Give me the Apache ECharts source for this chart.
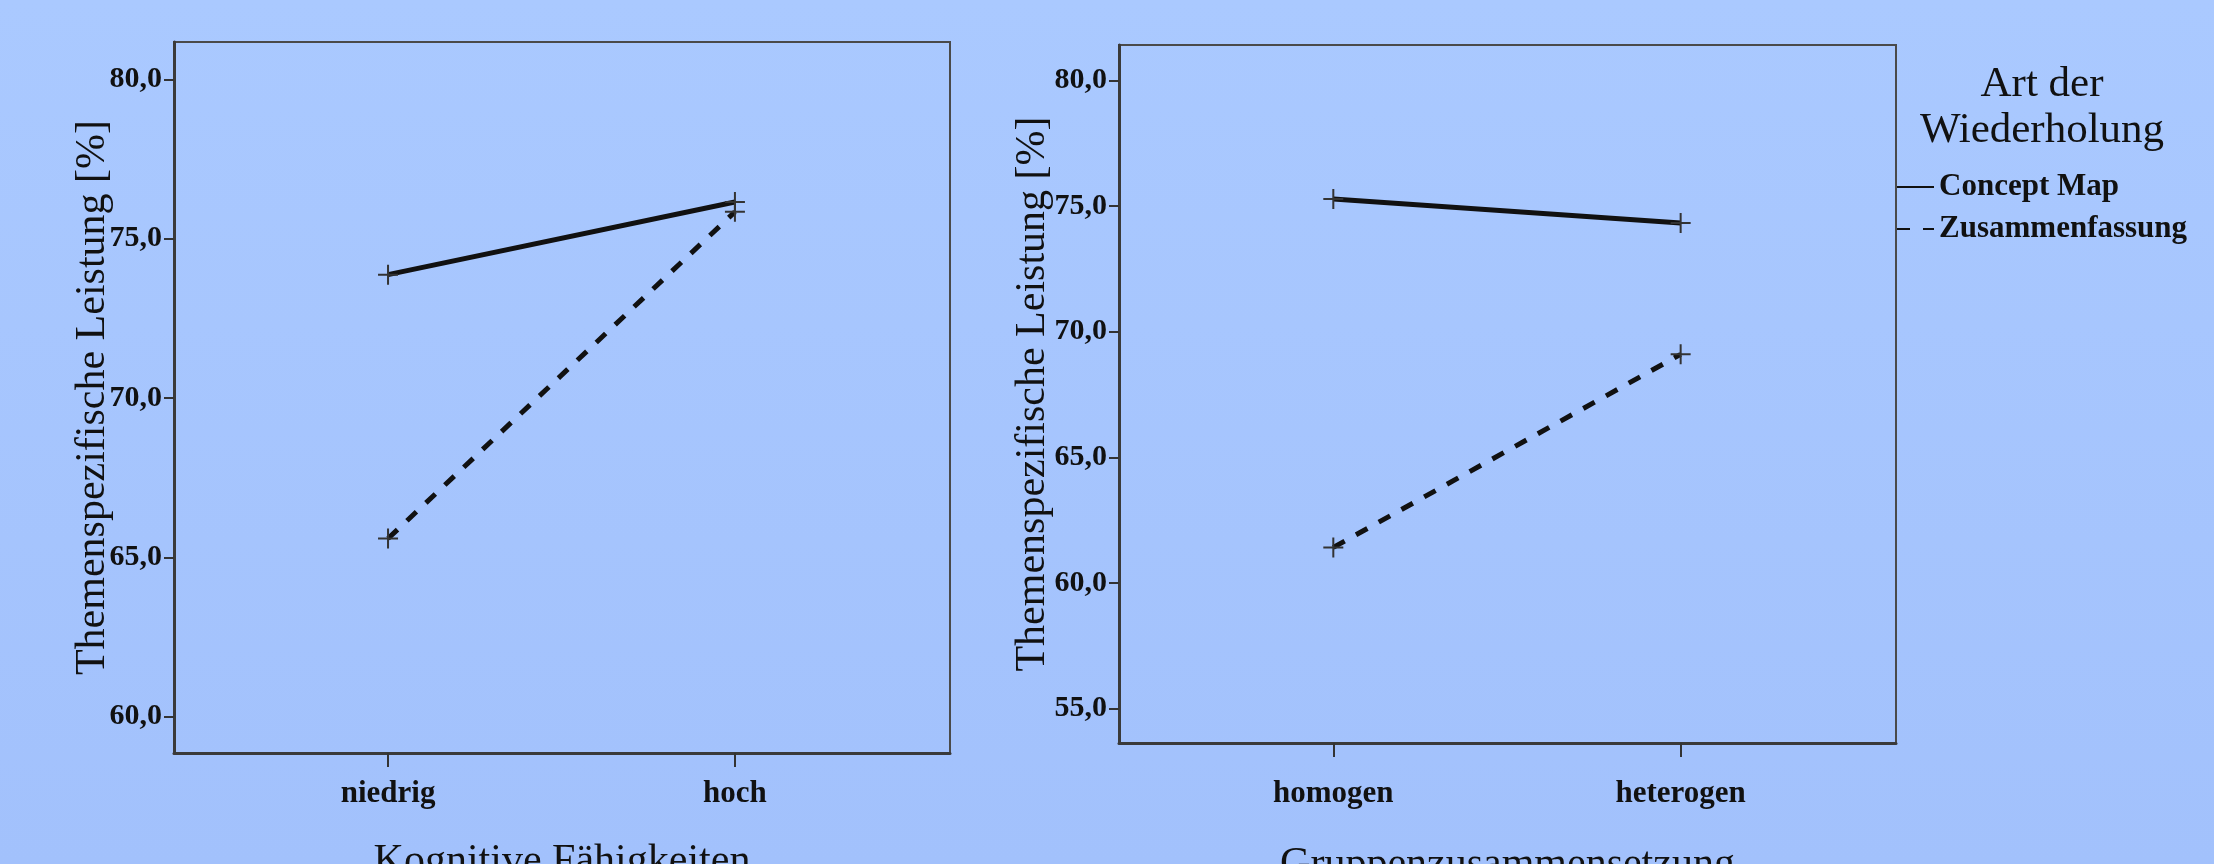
<!DOCTYPE html>
<html>
<head>
<meta charset="utf-8">
<script src="https://cdn.jsdelivr.net/npm/echarts@6/dist/echarts.min.js"></script>
<style>
html,body{margin:0;padding:0;width:2214px;height:864px;overflow:hidden;}
#chart{width:2214px;height:864px;}
</style>
</head>
<body>
<div id="chart"></div>
<script>
// ---- data ----
const categoriesLeft = ['niedrig', 'hoch'];
const categoriesRight = ['homogen', 'heterogen'];
const seriesNames = ['Concept Map', 'Zusammenfassung'];
const conceptMapLeft = [73.87, 76.15];
const zusammenfassungLeft = [65.59, 75.84];
const conceptMapRight = [75.29, 74.33];
const zusammenfassungRight = [61.41, 69.10];
const yTicksLeft = [60, 65, 70, 75, 80];
const yTicksRight = [55, 60, 65, 70, 75, 80];
const xTitleLeft = 'Kognitive Fähigkeiten';
const xTitleRight = 'Gruppenzusammensetzung';
const yTitle = 'Themenspezifische Leistung [%]';
const legendTitle = 'Art der\nWiederholung';

// ---- styles ----
const SERIF = '"Liberation Serif", "DejaVu Serif", serif';
const plusSymbol = 'path://M9,0h2v20h-2z M0,9h20v2h-20z';
const fmt = v => v.toFixed(1).replace('.', ',');

function pairs(vals) { return vals.map((v, i) => [i, v]); }

function xAxis(gridIndex, cats, name, nameGap, labelMargin) {
  return {
    type: 'value', gridIndex: gridIndex, min: -0.617, max: 1.62,
    name: name, nameLocation: 'middle', nameGap: nameGap, nameMoveOverlap: false,
    nameTextStyle: { fontFamily: SERIF, fontSize: 42, color: '#111' },
    axisLine: { show: true, onZero: false, lineStyle: { color: '#3a3a3a', width: 3 } },
    axisTick: { show: true, inside: false, length: 14, customValues: cats.map((c, i) => i), lineStyle: { color: '#333', width: 2 } },
    axisLabel: { customValues: cats.map((c, i) => i), formatter: v => cats[Math.round(v)] || '', margin: labelMargin,
      fontFamily: SERIF, fontWeight: 'bold', fontSize: 31, color: '#111' },
    splitLine: { show: false }
  };
}
function yAxis(gridIndex, min, max, ticks, nameGap) {
  return {
    type: 'value', gridIndex: gridIndex, min: min, max: max,
    name: yTitle, nameLocation: 'middle', nameRotate: 90, nameGap: nameGap, nameMoveOverlap: false,
    nameTextStyle: { fontFamily: SERIF, fontSize: 42, color: '#111' },
    axisLine: { show: true, onZero: false, lineStyle: { color: '#3a3a3a', width: 3 } },
    axisTick: { show: true, inside: false, length: 10, customValues: ticks, lineStyle: { color: '#333', width: 2 } },
    axisLabel: { customValues: ticks, formatter: fmt, margin: 12,
      fontFamily: SERIF, fontWeight: 'bold', fontSize: 30, color: '#111' },
    splitLine: { show: false }
  };
}
function series(name, idx, vals, dashed) {
  return {
    type: 'line', name: name, xAxisIndex: idx, yAxisIndex: idx,
    data: pairs(vals),
    symbol: plusSymbol, symbolSize: 20, showSymbol: true,
    itemStyle: { color: '#333' },
    lineStyle: { color: '#111', width: 5, type: dashed ? [13, 13] : 'solid' },
    emphasis: { disabled: true }, animation: false
  };
}

const chart = echarts.init(document.getElementById('chart'), null, { renderer: 'canvas' });
chart.setOption({
  animation: false,
  backgroundColor: {
    type: 'linear', x: 0, y: 0, x2: 0, y2: 1,
    colorStops: [{ offset: 0, color: '#aac9ff' }, { offset: 1, color: '#a2c1fc' }]
  },
  grid: [
    { left: 174, top: 42, width: 776, height: 711, containLabel: false, outerBoundsMode: 'none',
      show: true, borderColor: '#4a4a4a', borderWidth: 2, backgroundColor: 'transparent' },
    { left: 1119, top: 45, width: 777, height: 698, containLabel: false, outerBoundsMode: 'none',
      show: true, borderColor: '#4a4a4a', borderWidth: 2, backgroundColor: 'transparent' }
  ],
  xAxis: [
    xAxis(0, categoriesLeft, xTitleLeft, 88, 25),
    xAxis(1, categoriesRight, xTitleRight, 101, 35)
  ],
  yAxis: [
    yAxis(0, 58.86, 81.17, yTicksLeft, 60),
    yAxis(1, 53.62, 81.42, yTicksRight, 65)
  ],
  legend: {
    orient: 'vertical', left: 1896, top: 169, padding: 0,
    data: seriesNames,
    itemWidth: 37, itemHeight: 14, itemGap: 6,
    itemStyle: { opacity: 0 },
    textStyle: { fontFamily: SERIF, fontWeight: 'bold', fontSize: 31, color: '#111', lineHeight: 36 },
    selectedMode: false
  },
  graphic: [
    { type: 'text', x: 2042, y: 62,
      style: { text: legendTitle, textAlign: 'center', fontFamily: SERIF, fontSize: 43, lineHeight: 46, fill: '#111' } }
  ],
  series: [
    series(seriesNames[0], 0, conceptMapLeft, false),
    series(seriesNames[1], 0, zusammenfassungLeft, true),
    series(seriesNames[0], 1, conceptMapRight, false),
    series(seriesNames[1], 1, zusammenfassungRight, true)
  ]
});
</script>
</body>
</html>
